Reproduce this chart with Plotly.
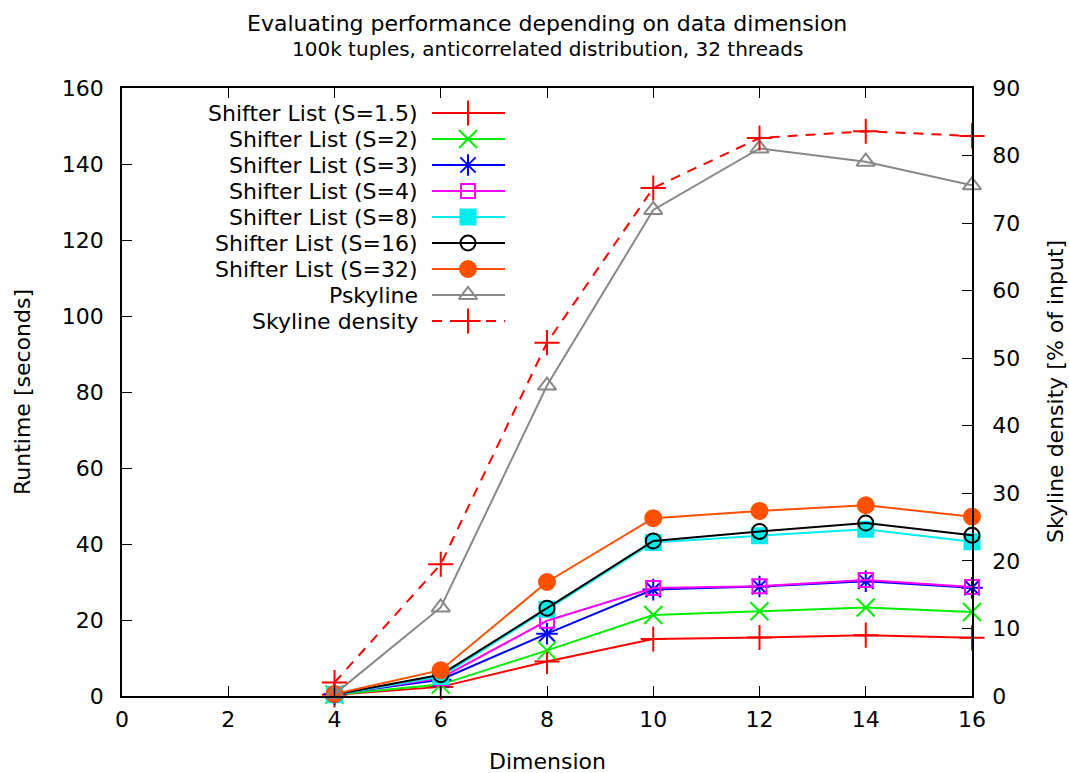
import plotly.graph_objects as go

dimension = [4, 6, 8, 10, 12, 14, 16]
s1_5 = [0.3, 2.4, 9.1, 15.0, 15.4, 16.0, 15.3]
s2 = [0.4, 3.0, 12.0, 21.3, 22.3, 23.3, 22.1]
s3 = [0.5, 4.3, 16.4, 28.0, 28.8, 30.2, 28.5]
s4 = [0.5, 4.7, 19.8, 28.4, 28.9, 30.5, 28.7]
s8 = [0.3, 5.1, 22.8, 40.4, 42.2, 43.9, 40.6]
s16 = [0.4, 5.6, 23.1, 40.8, 43.3, 45.5, 42.3]
s32 = [0.5, 6.8, 30.0, 46.8, 48.7, 50.2, 47.2]
pskyline = [0.5, 23.3, 81.7, 127.9, 144.1, 140.6, 134.4]
density = [2.0, 19.5, 52.3, 75.2, 82.6, 83.6, 82.9]

series_names = ["Shifter List (S=1.5)", "Shifter List (S=2)", "Shifter List (S=3)",
                "Shifter List (S=4)", "Shifter List (S=8)", "Shifter List (S=16)",
                "Shifter List (S=32)", "Pskyline", "Skyline density"]

FONT = "DejaVu Sans"
FS = 22
W, H = 1069, 773
L, R, T, B = 122, 972, 88, 696

styles = [
    dict(color="#ff0000", symbol="cross-thin-open", size=18, dash="solid"),
    dict(color="#00ee00", symbol="x-thin-open", size=18, dash="solid"),
    dict(color="#0000ff", symbol="asterisk-open", size=18, dash="solid"),
    dict(color="#ff00ff", symbol="square-open", size=14, dash="solid"),
    dict(color="#00eeee", symbol="square", size=15, dash="solid"),
    dict(color="#000000", symbol="circle-open", size=15, dash="solid"),
    dict(color="#ff5000", symbol="circle", size=16, dash="solid"),
    dict(color="#888888", symbol="triangle-up-open", size=16, dash="solid"),
    dict(color="#ff0000", symbol="cross-thin-open", size=18, dash="10px,8px"),
]

data_series = [s1_5, s2, s3, s4, s8, s16, s32, pskyline]

fig = go.Figure()

for i, ys in enumerate(data_series):
    st = styles[i]
    fig.add_trace(go.Scatter(
        x=dimension, y=ys, mode="lines+markers", name=series_names[i],
        line=dict(color=st["color"], width=2, dash=st["dash"]),
        marker=dict(symbol=st["symbol"], size=st["size"], color=st["color"],
                    line=dict(color=st["color"], width=2)),
        showlegend=False, cliponaxis=False, xaxis="x", yaxis="y"))

st = styles[8]
fig.add_trace(go.Scatter(
    x=dimension, y=density, mode="lines+markers", name=series_names[8],
    line=dict(color=st["color"], width=2, dash=st["dash"]),
    marker=dict(symbol=st["symbol"], size=st["size"], color=st["color"],
                line=dict(color=st["color"], width=2)),
    showlegend=False, cliponaxis=False, xaxis="x", yaxis="y2"))

# custom legend (text left, sample right) on an overlay pixel axis
PW, PH = R - L, B - T
row0, step = 113 - T, 26
x_l0, x_l1, x_m, x_txt = 432 - L, 505 - L, 468 - L, 420 - L
annotations = []
for i, name in enumerate(series_names):
    st = styles[i]
    yy = row0 + i * step
    fig.add_trace(go.Scatter(
        x=[x_l0, x_l1], y=[yy, yy], mode="lines",
        line=dict(color=st["color"], width=2, dash=st["dash"]),
        showlegend=False, hoverinfo="skip", xaxis="x3", yaxis="y3"))
    fig.add_trace(go.Scatter(
        x=[x_m], y=[yy], mode="markers",
        marker=dict(symbol=st["symbol"], size=st["size"], color=st["color"],
                    line=dict(color=st["color"], width=2)),
        showlegend=False, hoverinfo="skip", xaxis="x3", yaxis="y3"))
    annotations.append(dict(x=x_txt, y=yy, xref="x3", yref="y3", text=name,
                            showarrow=False, xanchor="right", yanchor="middle",
                            font=dict(family=FONT, size=FS, color="black")))

annotations += [
    dict(x=0.5, y=1 + (T - 23) / PH, xref="paper", yref="paper",
         text="Evaluating performance depending on data dimension", showarrow=False,
         xanchor="center", yanchor="middle", font=dict(family=FONT, size=22, color="black")),
    dict(x=0.5, y=1 + (T - 49) / PH, xref="paper", yref="paper",
         text="100k tuples, anticorrelated distribution, 32 threads", showarrow=False,
         xanchor="center", yanchor="middle", font=dict(family=FONT, size=20, color="black")),
    dict(x=0.5, y=-(761 - B) / PH, xref="paper", yref="paper", text="Dimension",
         showarrow=False, xanchor="center", yanchor="middle",
         font=dict(family=FONT, size=FS, color="black")),
    dict(x=-(L - 22) / PW, y=0.5, xref="paper", yref="paper", text="Runtime [seconds]",
         showarrow=False, xanchor="center", yanchor="middle", textangle=-90,
         font=dict(family=FONT, size=FS, color="black")),
    dict(x=1 + (1055 - R) / PW, y=0.5, xref="paper", yref="paper",
         text="Skyline density [% of input]", showarrow=False, xanchor="center",
         yanchor="middle", textangle=-90, font=dict(family=FONT, size=FS, color="black")),
]

axis_common = dict(showgrid=False, zeroline=False, ticks="inside", ticklen=10,
                   tickwidth=1, tickcolor="black", showline=True, linecolor="black",
                   linewidth=1.5, tickfont=dict(family=FONT, size=FS, color="black"))

fig.update_layout(
    width=W, height=H, margin=dict(l=L, r=W - R, t=T, b=H - B, autoexpand=False),
    paper_bgcolor="white", plot_bgcolor="white", showlegend=False,
    xaxis=dict(range=[0, 16], tickvals=[0, 2, 4, 6, 8, 10, 12, 14, 16], mirror="ticks",
               ticklabelstandoff=3, **axis_common),
    yaxis=dict(range=[0, 160], tickvals=[0, 20, 40, 60, 80, 100, 120, 140, 160],
               ticklabelstandoff=12, **axis_common),
    yaxis2=dict(range=[0, 90], tickvals=[0, 10, 20, 30, 40, 50, 60, 70, 80, 90],
                overlaying="y", side="right", ticklabelstandoff=14, **axis_common),
    xaxis3=dict(range=[0, PW], visible=False, overlaying="x", fixedrange=True),
    yaxis3=dict(range=[PH, 0], visible=False, overlaying="y", fixedrange=True),
    annotations=annotations,
)

fig.write_html("out.html")
